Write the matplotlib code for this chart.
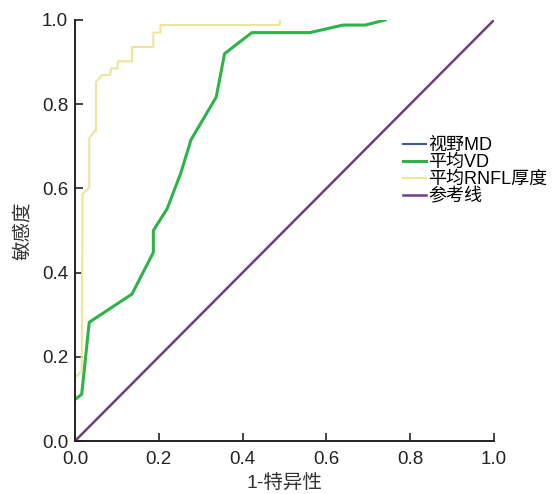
import matplotlib
matplotlib.use('Agg')
import matplotlib.pyplot as plt

plt.rcParams['font.family'] = ['Liberation Sans', 'Noto Sans CJK SC']

# ROC curve points (1 - specificity, sensitivity)
rnfl_fpr = [0.0, 0.0, 0.016, 0.018, 0.034, 0.034, 0.046, 0.050, 0.050, 0.064, 0.084, 0.086,
            0.102, 0.102, 0.136, 0.136, 0.187, 0.187, 0.204, 0.204, 0.489, 0.489]
rnfl_tpr = [0.0, 0.15, 0.167, 0.587, 0.602, 0.718, 0.736, 0.736, 0.853, 0.869, 0.869, 0.885,
            0.885, 0.902, 0.902, 0.936, 0.936, 0.97, 0.97, 0.988, 0.988, 0.998]

vd_fpr = [0.0, 0.002, 0.016, 0.034, 0.136, 0.187, 0.187, 0.220, 0.252, 0.274, 0.276,
          0.337, 0.357, 0.422, 0.560, 0.640, 0.693, 0.740]
vd_tpr = [0.10, 0.10, 0.111, 0.282, 0.349, 0.448, 0.50, 0.552, 0.635, 0.706, 0.714,
          0.817, 0.92, 0.97, 0.97, 0.988, 0.988, 1.0]

ref_x = [0.0, 1.0]
ref_y = [0.0, 1.0]

labels = ['视野MD', '平均VD', '平均RNFL厚度', '参考线']
colors = ['#3a5a9c', '#2db34a', '#ece59a', '#6b3f80']
ticks = [0, 0.2, 0.4, 0.6, 0.8, 1.0]
tick_labels = ['0.0', '0.2', '0.4', '0.6', '0.8', '1.0']

fig = plt.figure(figsize=(5.58, 4.94), dpi=100)
ax = fig.add_axes([75 / 558, 1 - 441 / 494, 419 / 558, 421 / 494])

# 视野MD is hidden under the others in the original, only shown in legend
ax.plot([], [], color=colors[0], lw=1.5, label=labels[0])
ax.plot(vd_fpr, vd_tpr, color=colors[1], lw=2.2, label=labels[1])
ax.plot(rnfl_fpr, rnfl_tpr, color=colors[2], lw=1.5, label=labels[2])
ax.plot(ref_x, ref_y, color=colors[3], lw=1.8, label=labels[3])

ax.set_xlim(0, 1)
ax.set_ylim(0, 1)
ax.set_xticks(ticks)
ax.set_yticks(ticks)
ax.set_xticklabels(tick_labels)
ax.set_yticklabels(tick_labels)
ax.tick_params(direction='in', length=6, width=1.2, labelsize=13.5, colors='#222222')
ax.tick_params(axis='y', pad=5)
ax.tick_params(axis='x', pad=7)

for side in ['top', 'right']:
    ax.spines[side].set_visible(False)
for side in ['left', 'bottom']:
    ax.spines[side].set_linewidth(1.4)
    ax.spines[side].set_color('#222222')

ax.set_xlabel('1-特异性', fontsize=14, color='#333333', labelpad=5)
ax.set_ylabel('敏感度', fontsize=14, color='#333333', labelpad=7)

fig.legend(loc='center left', bbox_to_anchor=(403 / 558, 1 - 171 / 494),
           frameon=False, fontsize=13, handlelength=1.3, handletextpad=0.1,
           labelspacing=0.0, borderpad=0, borderaxespad=0)

fig.savefig('out.png', dpi=100)
